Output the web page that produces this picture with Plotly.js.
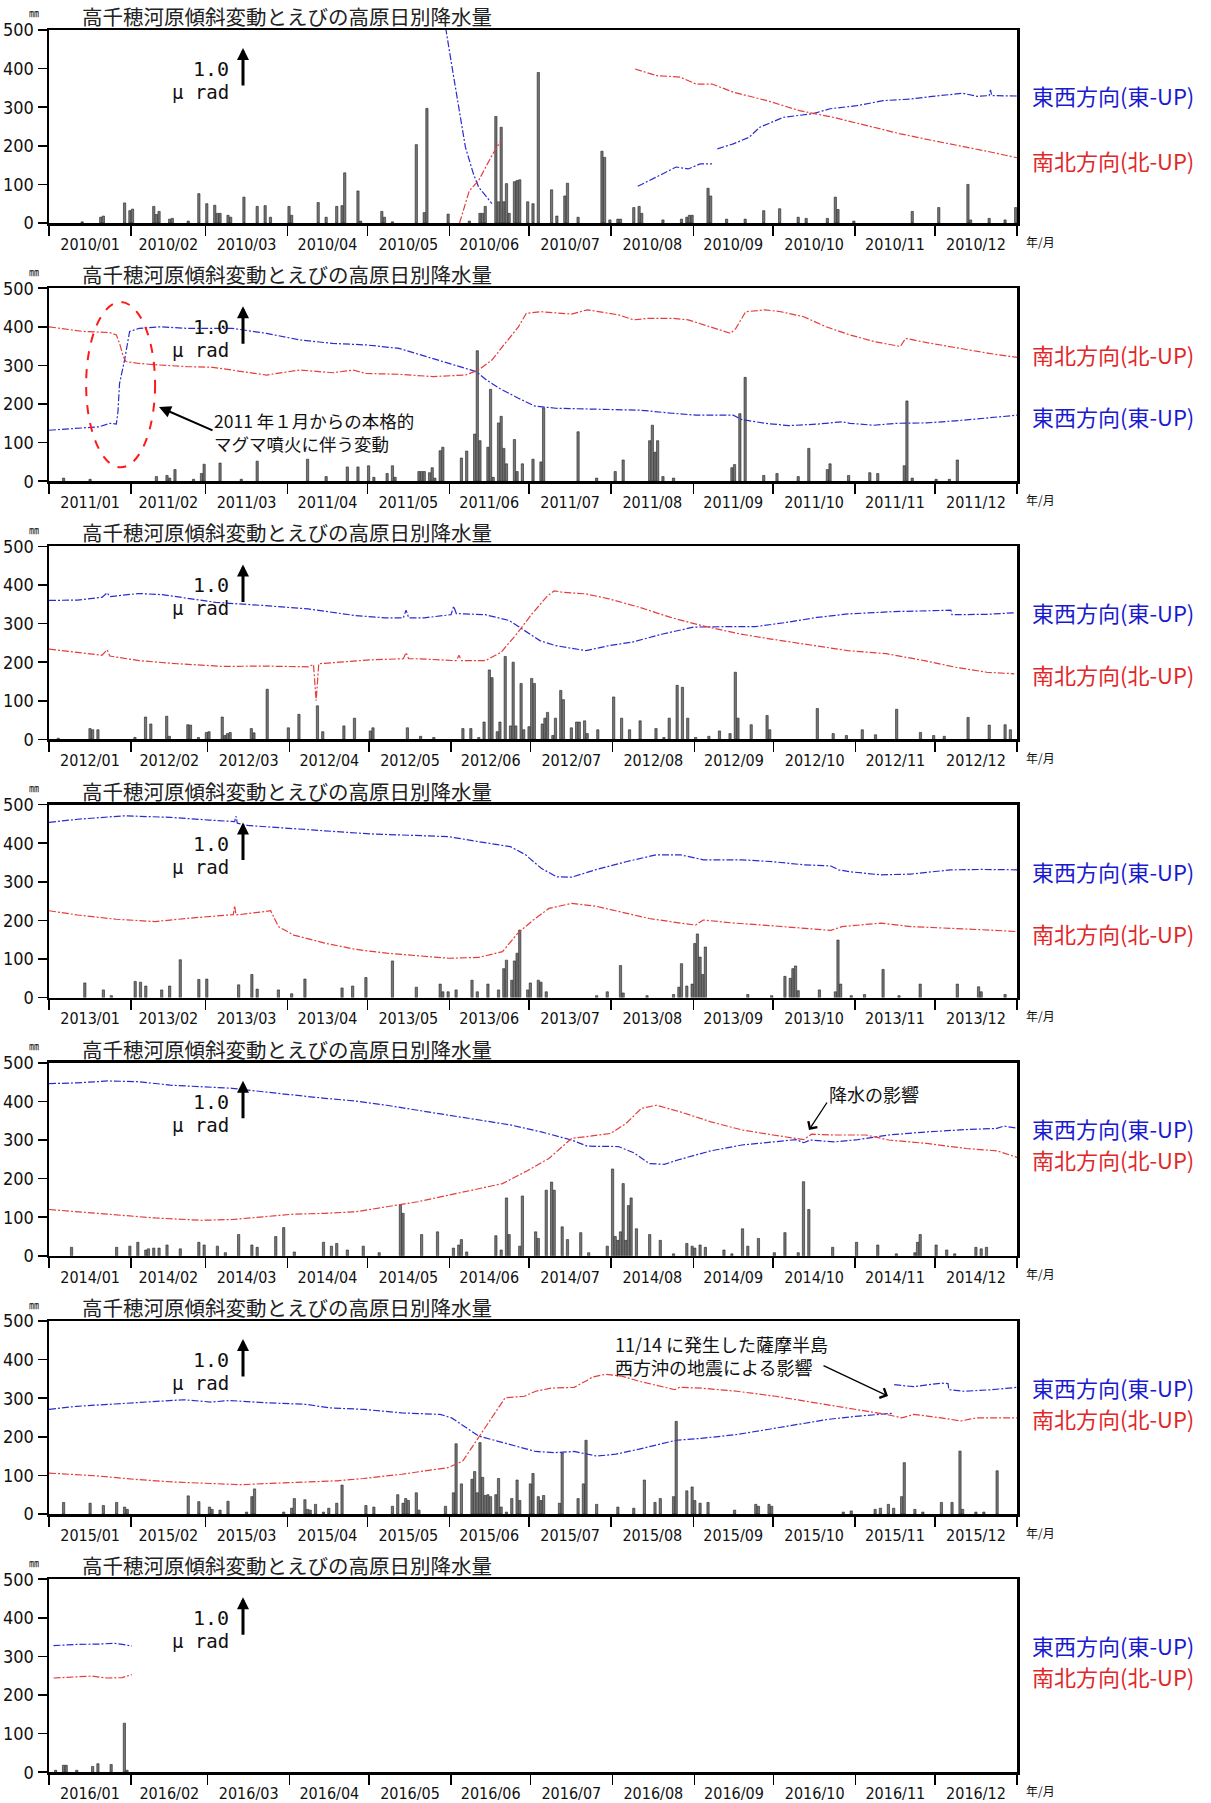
<!DOCTYPE html>
<html><head><meta charset="utf-8">
<script src="https://cdn.plot.ly/plotly-3.0.1.min.js"></script>
<style>body{margin:0;background:#fff}#chart{width:1211px;height:1803px}</style>
</head><body><div id="chart"></div>
<script>
// ---------------- DATA (day of year from Jan 1, value) ----------------
const years = [2010, 2011, 2012, 2013, 2014, 2015, 2016];
const chartTitle = '高千穂河原傾斜変動とえびの高原日別降水量';
const ewName = '東西方向(東-UP)';
const nsName = '南北方向(北-UP)';

// daily precipitation (mm) at Ebino plateau: [day, mm]
const rain2010 = [[12,3],[19,15],[20,18],[28,52],[30,32],[31,36],[39,43],[40,22],[41,30],[45,10],[46,12],[52,5],[56,76],[59,50],[62,46],[63,25],[64,25],[67,20],[68,15],[73,67],[78,43],[81,45],[83,15],[90,43],[91,20],[101,53],[104,15],[108,43],[110,45],[111,130],[116,83],[117,5],[125,30],[126,15],[129,3],[138,203],[141,27],[142,297],[150,23],[158,5],[162,25],[163,25],[164,43],[168,276],[169,55],[170,248],[171,55],[172,102],[173,25],[175,107],[176,110],[177,112],[180,55],[182,50],[184,390],[189,86],[191,18],[194,70],[195,103],[199,15],[208,186],[209,170],[211,8],[214,10],[215,10],[220,40],[222,43],[223,25],[231,8],[238,10],[240,15],[241,20],[242,20],[248,90],[249,70],[255,10],[262,10],[269,32],[275,37],[282,15],[285,12],[293,12],[296,67],[297,35],[303,5],[325,30],[335,40],[346,100],[347,8],[354,12],[360,8],[364,40]];
const rain2011 = [[5,8],[15,5],[40,12],[44,15],[45,8],[47,30],[54,5],[57,20],[58,44],[64,47],[72,5],[78,52],[97,57],[104,12],[112,37],[116,37],[120,40],[122,10],[127,20],[129,40],[130,10],[139,25],[140,25],[141,25],[143,22],[144,35],[145,8],[147,79],[148,88],[155,60],[157,78],[160,122],[161,338],[162,105],[165,88],[166,238],[167,10],[169,151],[170,168],[171,85],[172,45],[175,108],[176,25],[178,45],[182,57],[185,50],[186,190],[199,128],[206,8],[213,25],[216,55],[226,105],[227,145],[228,75],[229,105],[231,12],[235,8],[257,35],[258,43],[260,175],[262,269],[269,15],[274,20],[282,12],[286,85],[293,30],[294,45],[301,15],[309,22],[312,20],[322,40],[323,208],[325,8],[334,5],[339,5],[342,55]];
const rain2012 = [[3,3],[15,28],[16,25],[18,25],[32,5],[36,58],[38,40],[44,60],[45,8],[52,38],[53,37],[56,5],[59,18],[60,20],[65,58],[66,10],[67,15],[68,18],[76,28],[77,17],[82,130],[90,30],[94,65],[101,87],[103,20],[111,35],[115,55],[121,22],[122,30],[135,30],[140,8],[145,5],[156,28],[159,28],[162,5],[164,45],[166,180],[167,160],[169,20],[170,45],[172,215],[174,35],[175,200],[176,35],[178,145],[179,25],[181,33],[182,158],[183,145],[186,40],[187,55],[188,70],[190,10],[191,55],[193,127],[194,103],[197,30],[199,45],[200,45],[202,48],[203,15],[207,25],[213,110],[216,55],[219,25],[223,48],[229,28],[232,5],[234,55],[237,140],[239,135],[241,55],[244,5],[249,8],[253,22],[257,15],[259,174],[260,55],[265,38],[271,62],[272,25],[290,80],[296,15],[301,10],[307,25],[312,12],[320,78],[329,18],[334,10],[338,8],[347,57],[355,37],[361,38],[363,25]];
const rain2013 = [[13,38],[20,20],[23,5],[32,42],[34,40],[36,30],[42,20],[45,30],[49,98],[56,47],[59,48],[71,33],[76,60],[78,22],[86,20],[91,10],[96,48],[110,25],[114,30],[119,52],[129,95],[138,27],[147,35],[148,15],[150,15],[153,20],[159,45],[161,15],[165,35],[169,20],[171,75],[172,97],[174,45],[175,95],[176,115],[177,175],[180,20],[181,38],[184,45],[185,40],[187,15],[206,5],[210,15],[215,83],[216,12],[225,5],[235,8],[237,27],[238,88],[240,30],[242,35],[243,140],[244,165],[245,105],[246,60],[247,131],[263,8],[272,5],[277,55],[279,50],[280,75],[281,82],[282,18],[290,20],[296,15],[297,149],[298,35],[302,5],[307,8],[314,73],[320,5],[328,35],[342,35],[350,28],[351,15],[360,8]];
const rain2014 = [[8,22],[25,22],[30,25],[33,35],[36,15],[37,18],[39,20],[41,20],[44,28],[49,18],[56,35],[58,28],[63,25],[66,8],[71,55],[76,28],[78,22],[85,50],[88,73],[92,10],[103,35],[106,25],[108,32],[112,15],[118,25],[124,8],[132,131],[133,110],[140,55],[146,62],[152,20],[154,28],[155,42],[157,10],[168,52],[170,15],[172,150],[173,55],[177,25],[178,155],[183,62],[184,45],[187,170],[189,191],[190,170],[193,75],[195,42],[200,60],[203,8],[210,25],[212,225],[213,50],[214,40],[215,62],[216,187],[217,40],[218,130],[219,150],[221,70],[226,55],[230,40],[235,5],[240,32],[242,25],[243,20],[245,28],[247,22],[254,15],[257,5],[261,70],[263,25],[267,45],[273,8],[277,60],[282,8],[284,192],[286,120],[295,22],[304,35],[312,28],[319,5],[326,8],[327,35],[328,55],[334,28],[338,15],[341,5],[349,22],[351,18],[353,22]];
const rain2015 = [[5,30],[15,28],[20,22],[25,30],[28,18],[29,12],[52,47],[56,32],[60,18],[61,12],[64,10],[67,33],[74,5],[76,45],[77,65],[88,5],[91,15],[92,40],[96,37],[97,12],[98,10],[100,25],[103,5],[105,15],[108,28],[110,75],[119,22],[122,18],[129,20],[131,50],[133,28],[134,40],[135,35],[138,55],[139,10],[149,20],[152,55],[153,182],[155,78],[159,90],[160,110],[161,55],[162,185],[163,95],[164,48],[165,50],[166,45],[168,50],[169,92],[170,18],[172,5],[174,40],[176,88],[177,35],[181,78],[182,105],[184,45],[185,35],[186,48],[192,28],[193,158],[199,40],[201,78],[202,191],[206,25],[214,18],[220,15],[224,88],[228,30],[230,40],[235,45],[236,240],[240,60],[242,70],[243,35],[245,28],[248,30],[258,10],[266,25],[267,20],[271,25],[272,20],[299,5],[302,8],[311,12],[313,15],[316,25],[318,15],[321,45],[322,133],[326,12],[329,5],[336,30],[340,30],[343,163],[344,12],[349,5],[352,5],[357,112]];
const rain2016 = [[2,5],[5,18],[6,18],[10,5],[16,15],[18,22],[23,20],[28,127],[29,5]];

// tilt, east-west component (read on the 0-500 chart scale): [day, value]; null = gap
const ew2010 = [[149,540],[149.7,500],[152,403],[154.6,291],[157,197],[160,128],[162,93],[166,59],[167,50],null,[222,95],[229,119],[236.5,145],[241,140],[245.5,153],[250,153],null,[252,192],[258,205],[264,222],[268,248],[277,274],[288,283],[294.5,296],[304.6,304],[314.5,317],[324.6,321],[333,328],[344.6,336],[350,328],[354.5,330],[355,345],[355.5,330],[365,329]];
const ew2011 = [[0,132],[12.8,137],[19,141],[22.9,150],[25.4,148],[26,180],[26.6,253],[28.5,314],[30.4,388],[34,396],[41.7,400],[51.8,396],[69,396],[82,383],[94.5,366],[107,357],[119.6,353],[132,344],[144.7,318],[154.8,297],[161,284],[165,262],[170,240],[177,215],[183,195],[191,189],[206,186],[223,184],[235,176],[244,171],[258,171],[261,160],[270,150],[279,144],[290,148],[299,154],[302,150],[311,145],[319.5,150],[331,151],[343,157],[354.5,164],[365,171]];
const ew2012 = [[0,360],[10.8,361],[20,368],[22,380],[23,370],[34,378],[42.8,375],[51.6,366],[63,355],[80.7,347],[98,338],[115.6,321],[127,315],[134,315],[135,335],[136,315],[141.9,315],[152,323],[153,345],[154,326],[165,323],[174,308],[179.7,282],[185.6,256],[191.4,243],[203,230],[211.8,243],[220.5,252],[232,273],[243.8,291],[255.5,292],[267,292],[278.8,303],[290.4,316],[302,325],[319.5,331],[337,334],[341,335],[341.4,323],[354.5,324],[365,328]];
const ew2013 = [[0,454],[10.8,462],[28.3,471],[45.7,467],[60.3,460],[70,456],[70.5,470],[71,452],[74.9,446],[86.5,440],[104,432],[121.5,424],[139,419],[150.6,417],[162,404],[174,391],[179.7,370],[185.6,335],[191.4,313],[197,312],[206,331],[217.6,352],[229,370],[238,370],[246.7,357],[261.3,357],[273,352],[284.6,344],[294.8,341],[297.7,331],[302,326],[313.7,318],[325,320],[340,331],[351.6,332],[365,331]];
const ew2014 = [[0,446],[10.8,448],[22.4,453],[34,451],[45.7,442],[57.4,438],[69,434],[80.7,425],[92.3,416],[104,408],[115.6,401],[127.3,390],[139,377],[150.6,364],[162,351],[174,339],[185.6,321],[197,300],[203,284],[214.7,283],[220.5,267],[226.3,239],[232,237],[238,250],[249.6,272],[261.3,287],[273,295],[281.7,301],[284.6,293],[287,300],[296,295],[305,301],[316.6,313],[331,321],[345.8,327],[357.4,330],[360,336],[365,331]];
const ew2015 = [[0,271],[10.4,279],[24.8,285],[36.4,290],[50.8,296],[61,290],[68,294],[82.5,288],[97,284],[105.6,275],[118.6,271],[133,262],[147.5,258],[151.8,249],[157.6,223],[162,202],[169,189],[176.3,176],[183.5,162],[190.8,159],[198,162],[206.6,150],[213.7,155],[222.5,168],[236.4,191],[246,196],[259.4,206],[271,219],[281.8,232],[293.5,245],[304,253],[315.7,259],[318.4,261],null,[318.7,335],[326,330],[336.4,339],[339,338],[339.3,322],[345.2,318],[355.5,322],[365,328]];
const ew2016 = [[1.7,328],[10.4,331],[19,332],[24.8,334],[27.7,331],[31.3,327]];

// tilt, north-south component: [day, value]
const ns2010 = [[154.8,0],[158.5,84],[162,110],[167,175],[170.5,214],null,[221,399],[229,382],[238,378],[244,360],[250,360],[258,339],[270.7,317],[283,291],[295.6,274],[308,253],[321,231],[333,214],[346,197],[355,184],[365,169]];
const ns2011 = [[0,400],[12.8,388],[22.9,385],[25.4,379],[26.6,357],[28,323],[29,310],[34,305],[41.7,301],[51.8,297],[61.8,295],[69,288],[82,275],[94.5,288],[107,281],[114.6,288],[119.6,279],[132,277],[144.7,271],[157,275],[162,288],[167,314],[172,357],[177,400],[180,435],[185.6,439],[197,433],[203,444],[214.7,431],[220.5,418],[226,422],[235,422],[241,418],[249.6,400],[257,383],[259,396],[262.7,439],[270,444],[276,439],[284.6,426],[293,400],[302,379],[311,362],[321,349],[323,370],[331,359],[343,344],[354.5,331],[365,321]];
const ns2012 = [[0,234],[10.8,226],[20,218],[22,232],[23,216],[34,204],[48.6,196],[66,189],[80.7,190],[98,188],[100,194],[101,100],[102,196],[109.8,200],[121.5,206],[134,209],[135,225],[136,209],[139,209],[154,204],[155,218],[156,204],[165,204],[171,226],[176.8,273],[182.6,325],[188.5,372],[191,385],[194.3,381],[203,377],[211.8,364],[223.4,342],[235,316],[246.7,295],[261.3,273],[273,260],[290.4,243],[302,230],[316.6,222],[331,204],[342.8,187],[354.5,174],[365,170]];
const ns2013 = [[0,225],[10.8,214],[25.3,203],[40,197],[51.6,205],[63.2,212],[69.5,215],[70,238],[70.5,214],[77.8,220],[83.6,225],[86.5,184],[92.3,162],[104,141],[115.6,125],[127.3,115],[139,108],[150.6,102],[162,104],[171,119],[176.8,167],[182.6,201],[188.5,231],[197,244],[206,237],[214.7,223],[226.3,205],[238,193],[243.8,188],[246.7,201],[258.4,193],[273,186],[284.6,180],[294.8,174],[299,184],[313.7,193],[325,184],[340,180],[354.5,175],[365,171]];
const ns2014 = [[0,120],[10.8,114],[25.3,105],[40,98],[57.4,92],[69,94],[80.7,101],[92.3,108],[104,110],[115.6,114],[127.3,127],[139,140],[150.6,157],[162,174],[171,187],[179.7,218],[188.5,252],[197,304],[206,313],[211.8,317],[217.6,343],[223.4,382],[229,390],[238,373],[249.6,347],[261.3,326],[273,313],[284.6,301],[287.5,315],[296,313],[308,313],[316.6,300],[331,291],[345.8,278],[357.4,272],[365,255]];
const ns2015 = [[0,106],[17.6,99],[32,90],[46.5,83],[61,79],[72.4,76],[82.5,79],[97,82],[108.5,86],[118.6,92],[133,103],[143,113],[150.4,120],[156,137],[162,198],[167.7,258],[172,301],[179.2,305],[183.5,318],[189.3,326],[198,328],[202.3,344],[205,355],[210,362],[216,357],[222.5,344],[236,322],[237.7,328],[246,326],[259.4,318],[274,305],[289,288],[304,271],[315.7,258],[321.6,249],[326,258],[336.4,249],[343.8,241],[349.6,249],[365,249]];
const ns2016 = [[1.7,244],[10.4,246],[16.2,249],[22,244],[27.7,245],[31.3,253]];

const rainSeries = [rain2010, rain2011, rain2012, rain2013, rain2014, rain2015, rain2016];
const ewSeries = [ew2010, ew2011, ew2012, ew2013, ew2014, ew2015, ew2016];
const nsSeries = [ns2010, ns2011, ns2012, ns2013, ns2014, ns2015, ns2016];
const yTicks = [0, 100, 200, 300, 400, 500];

// ---------------- LAYOUT GEOMETRY (pixels) ----------------
const W = 1211, H = 1803;
const PL = 49, PR = 1017;
const panelTop = i => 30 + 258.2 * i;
const panelBot = i => 223 + 258.2 * i;
const ewLabelDy = [65, 128, 66, 66, 65, 66, 66];
const nsLabelDy = [130, 66, 128, 128, 96, 97, 97];
const px = x => x / W;
const py = y => 1 - y / H;

const DAY = 86400000;
function toDate(year, d) {
  const s = new Date(Date.UTC(year, 0, 1) + d * DAY).toISOString();
  return s.slice(0, 10) + ' ' + s.slice(11, 19);
}

const BLUE = '#2b2bd0', RED = '#e53c3c';
const numFont = 'DejaVu Sans Condensed, Liberation Sans Narrow, DejaVu Sans, sans-serif';
const monoFont = 'DejaVu Sans Mono, Liberation Mono, monospace';
const jpFont = 'Noto Sans CJK JP, Noto Sans, sans-serif';

const traces = [];
const layout = {
  width: W, height: H,
  margin: {l: 0, r: 0, t: 0, b: 0},
  paper_bgcolor: '#fff', plot_bgcolor: '#fff',
  showlegend: false, barmode: 'overlay',
  annotations: [], shapes: []
};

function note(x, y, text, size, anchor, extra) {
  return Object.assign({xref: 'paper', yref: 'paper', x: px(x), y: py(y), xanchor: anchor || 'center',
    yanchor: 'middle', align: 'left', text: text, showarrow: false,
    font: {family: jpFont, size: size, color: '#111'}}, extra || {});
}
function arrow(hx, hy, tx, ty, head, size, width) {
  return {xref: 'paper', yref: 'paper', x: px(hx), y: py(hy), text: '', showarrow: true,
    ax: tx - hx, ay: ty - hy, arrowhead: head, arrowsize: size, arrowwidth: width, arrowcolor: '#000'};
}

years.forEach((yr, i) => {
  const sfx = i === 0 ? '' : String(i + 1);
  const xa = 'x' + sfx, ya = 'y' + sfx;
  const rain = rainSeries[i];
  traces.push({
    type: 'bar', xaxis: xa, yaxis: ya,
    x: rain.map(p => toDate(yr, Math.round(p[0]) + 0.5)),
    y: rain.map(p => p[1]),
    width: 0.85 * DAY,
    marker: {color: '#767676', line: {color: '#222', width: 0.6}},
    hoverinfo: 'skip'
  });
  [[ewSeries[i], BLUE], [nsSeries[i], RED]].forEach(([ser, col]) => {
    traces.push({
      type: 'scatter', mode: 'lines', xaxis: xa, yaxis: ya,
      x: ser.map(p => p === null ? null : toDate(yr, p[0])),
      y: ser.map(p => p === null ? null : p[1]),
      connectgaps: false,
      line: {color: col, width: 1.2, dash: '7px,2px,2px,2px'},
      hoverinfo: 'skip'
    });
  });

  const T = panelTop(i), B = panelBot(i);
  layout['xaxis' + sfx] = {
    domain: [px(PL), px(PR)], anchor: ya, type: 'date',
    range: [`${yr}-01-01`, `${yr + 1}-01-01`],
    tick0: `${yr}-01-01`, dtick: 'M1', ticklabelmode: 'period', tickformat: '%Y/%m',
    ticks: 'outside', ticklen: 10, tickwidth: 1.5, tickcolor: '#000', ticklabelstandoff: -5,
    showline: true, mirror: true, linewidth: 2.5, linecolor: '#000',
    showgrid: false, zeroline: false,
    tickfont: {family: numFont, size: 16, color: '#111'}
  };
  layout['yaxis' + sfx] = {
    domain: [py(B), py(T)], anchor: xa, range: [0, 500],
    tickmode: 'array', tickvals: yTicks, ticktext: yTicks.map(String),
    ticks: 'outside', ticklen: 9, tickwidth: 1.5, tickcolor: '#000',
    showline: true, mirror: true, linewidth: 2.5, linecolor: '#000',
    showgrid: false, zeroline: false,
    tickfont: {family: numFont, size: 18, color: '#111'}
  };

  const A = layout.annotations;
  A.push(note(287, T - 14, chartTitle, 20.5, 'center', {font: {family: jpFont, size: 20.5, color: '#222'}}));
  A.push(note(34, T - 17, '㎜', 10, 'center'));
  A.push(note(1040, B + 18, '年/月', 12, 'center'));
  A.push(note(1030, T + ewLabelDy[i], ewName, 22, 'left', {font: {family: jpFont, size: 22, color: '#1a1ad0'}}));
  A.push(note(1030, T + nsLabelDy[i], nsName, 22, 'left', {font: {family: jpFont, size: 22, color: '#e0282a'}}));
  A.push(note(231, T + 39, '1.0', 20, 'right', {font: {family: monoFont, size: 20, color: '#111'}}));
  A.push(note(231, T + 62, 'μ rad', 19, 'right', {font: {family: monoFont, size: 19, color: '#111'}}));
  A.push(arrow(243, T + 18, 243, T + 57, 2, 0.8, 3));
});

// panel 2 annotations
layout.shapes.push({type: 'circle', xref: 'x2', yref: 'y2',
  x0: '2011-01-15', x1: '2011-02-10', y0: 36, y1: 464,
  line: {color: '#ff1a1a', width: 2, dash: 'dash'}});
layout.annotations.push(note(212, 432, '2011 年１月からの本格的<br>マグマ噴火に伴う変動', 17.5, 'left'));
layout.annotations.push(arrow(159, 407, 214, 431, 2, 1.2, 2));
// panel 5 annotation
layout.annotations.push(note(874, 1094, '降水の影響', 18, 'center'));
layout.annotations.push(arrow(809, 1130, 828, 1101, 4, 1.6, 1.3));
// panel 6 annotation
layout.annotations.push(note(613, 1355, '11/14 に発生した薩摩半島<br>西方沖の地震による影響', 18, 'left'));
layout.annotations.push(arrow(888, 1396, 822, 1365, 4, 1.6, 1.3));

Plotly.newPlot('chart', traces, layout, {staticPlot: true, displayModeBar: false});
</script></body></html>
